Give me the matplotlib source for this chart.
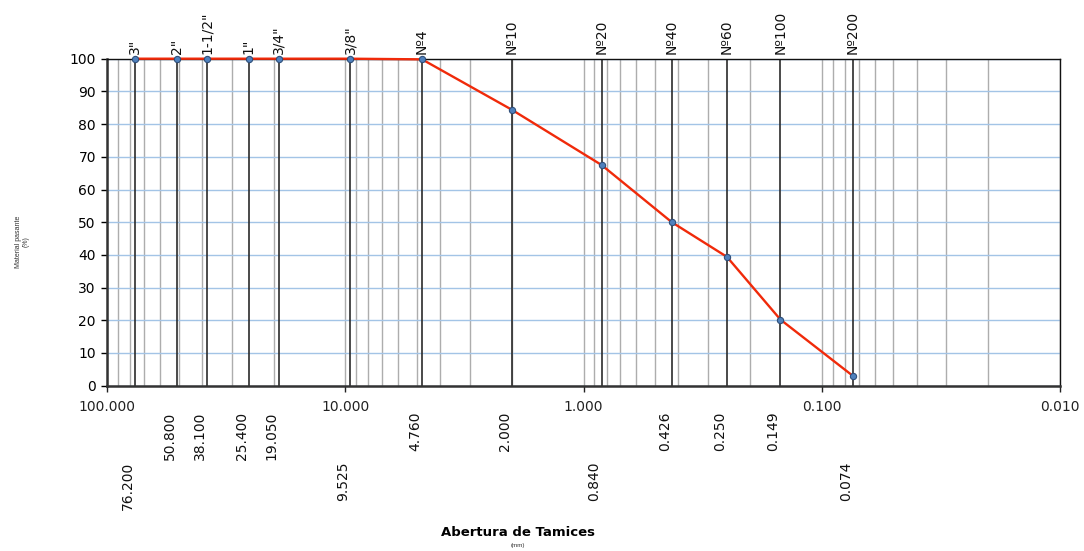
import matplotlib
matplotlib.use("Agg")
import matplotlib.pyplot as plt
from matplotlib.ticker import FixedLocator, FixedFormatter, NullFormatter, LogLocator

# Sieve designations, openings (mm) and percent passing
sieve_names = ['3"', '2"', '1-1/2"', '1"', '3/4"', '3/8"', 'Nº4', 'Nº10', 'Nº20', 'Nº40', 'Nº60', 'Nº100', 'Nº200']
openings_mm = [76.2, 50.8, 38.1, 25.4, 19.05, 9.525, 4.76, 2.0, 0.84, 0.426, 0.25, 0.149, 0.074]
passing_pct = [100, 100, 100, 100, 100, 100, 99.8, 84.4, 67.5, 50.0, 39.4, 20.2, 3.0]
opening_labels = ['76.200', '50.800', '38.100', '25.400', '19.050', '9.525', '4.760',
                  '2.000', '0.840', '0.426', '0.250', '0.149', '0.074']

major_ticks = [100, 10, 1, 0.1, 0.01]
major_labels = ['100.000', '10.000', '1.000', '0.100', '0.010']
y_ticks = list(range(0, 101, 10))

fig = plt.figure(figsize=(10.84, 5.51), dpi=100)
ax = fig.add_axes([107 / 1084, 1 - 385.7 / 551, (1060 - 107) / 1084, (385.7 - 58.7) / 551])

ax.set_xscale('log')
ax.set_xlim(100, 0.01)
ax.set_ylim(0, 100)

# grid: light blue horizontals, grey log verticals
ax.set_yticks(y_ticks)
ax.yaxis.grid(True, color='#a3c4e6', lw=1.0)
ax.xaxis.set_major_locator(FixedLocator(major_ticks))
ax.xaxis.set_major_formatter(FixedFormatter(major_labels))
ax.xaxis.set_minor_locator(LogLocator(base=10, subs=range(2, 10)))
ax.xaxis.set_minor_formatter(NullFormatter())
ax.xaxis.grid(True, which='both', color='#adadad', lw=1.0)
ax.set_axisbelow(True)

# sieve lines
for d in openings_mm:
    ax.axvline(d, color='#2b2b2b', lw=1.2, zorder=1.5)

# grading curve
ax.plot(openings_mm, passing_pct, color='#f02a0a', lw=1.7, zorder=4, clip_on=False,
        marker='o', markersize=4.5, markerfacecolor='#4f81bd',
        markeredgecolor='#2f4f7a', markeredgewidth=0.8)

# ticks and spines
ax.tick_params(axis='x', which='major', direction='out', length=4, width=1,
               labelsize=10, pad=6, colors='#222222')
ax.tick_params(axis='x', which='minor', length=0)
ax.tick_params(axis='y', direction='out', length=4, width=1, labelsize=10, pad=4)
for s in ('bottom', 'left'):
    ax.spines[s].set_linewidth(1.8)
    ax.spines[s].set_color('#333333')
for s in ('top', 'right'):
    ax.spines[s].set_linewidth(1.0)
    ax.spines[s].set_color('#111111')

xform = ax.get_xaxis_transform()

# sieve names above the plot
for name, d in zip(sieve_names, openings_mm):
    ax.annotate(name, xy=(d, 1), xycoords=xform, xytext=(0, 5),
                textcoords='offset pixels', rotation=90, ha='center', va='bottom',
                fontsize=10, color='#111111')

# sieve openings below the plot, in two staggered rows
label_row = [1, 0, 0, 0, 0, 1, 0, 0, 1, 0, 0, 0, 1]
for lab, d, row in zip(opening_labels, openings_mm, label_row):
    ax.annotate(lab, xy=(d, 0), xycoords=xform,
                xytext=(-7, -26 - 50 * row), textcoords='offset pixels',
                rotation=90, ha='center', va='top', fontsize=10, color='#111111')

# axis titles
fig.text(22 / 1084, 1 - 242 / 551, 'Material pasante\n(%)', rotation=90,
         ha='center', va='center', fontsize=5, family='Liberation Sans',
         linespacing=1.1, color='#333333')
fig.text(518 / 1084, 1 - 532 / 551, 'Abertura de Tamices', ha='center', va='center',
         fontsize=9.5, fontweight='bold')
fig.text(518 / 1084, 1 - 546 / 551, '(mm)', ha='center', va='center',
         fontsize=4.5, family='Liberation Sans', color='#333333')

fig.savefig('out.png', dpi=100)
